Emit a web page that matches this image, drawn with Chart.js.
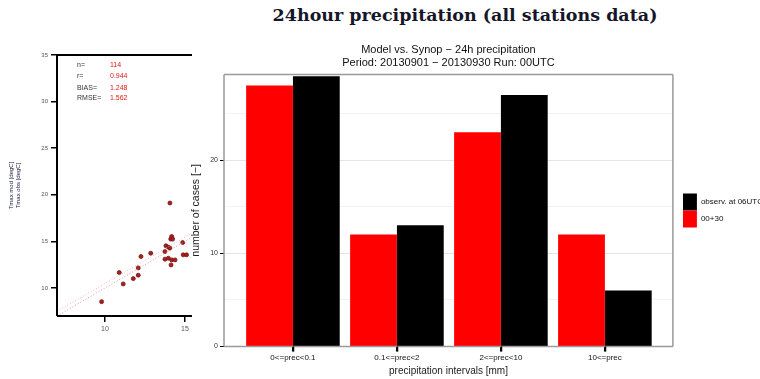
<!DOCTYPE html>
<html>
<head>
<meta charset="utf-8">
<script src="https://cdn.jsdelivr.net/npm/chart.js@4.4.0/dist/chart.umd.min.js"></script>
<style>
  body { margin: 0; background: #fff; }
  #page { position: relative; width: 760px; height: 379px; overflow: hidden; }
  #head { position: absolute; left: 165px; top: 5px; width: 600px; text-align: center;
          font: bold 17.5px "DejaVu Serif", "Liberation Serif", serif; color: #16162a; }
  #scatter { position: absolute; left: 0; top: 0; }
  #bars { position: absolute; left: 190px; top: 0; }
</style>
</head>
<body>
<div id="page">
  <div id="head">24hour precipitation (all stations data)</div>
  <canvas id="scatter" width="192" height="379"></canvas>
  <canvas id="bars" width="583" height="379"></canvas>
</div>
<script>
// bar chart data
const categories = ['0<=prec<0.1', '0.1<=prec<2', '2<=prec<10', '10<=prec'];
const modelCounts = [28, 12, 23, 12];   // 00+30
const obsCounts = [29, 13, 27, 6];      // observ. at 06UTC
const countTicks = [0, 10, 20];

// scatter panel data (left, partly cut off)
const tObs = [9.79, 10.89, 11.14, 11.77, 12.08, 12.08, 12.25, 12.86, 14.06, 14.17, 14.11, 14.23,
              13.81, 13.96, 13.75, 14.06, 13.75, 13.96, 14.17, 14.38, 14.13, 14.86, 14.89, 15.1];
const tMod = [8.54, 11.66, 10.44, 11.01, 11.38, 12.16, 13.38, 13.74, 19.12, 15.53, 15.25, 15.25,
              14.53, 14.39, 13.91, 14.28, 13.1, 13.2, 13.02, 13.02, 12.48, 14.88, 13.56, 13.56];
const diagX = [7, 15.44];
const diagY = [7, 15.44];
const fitX = [7, 15.44];
const fitY = [7.5, 15.9];
const xTicks = [10, 15];
const yTicks = [10, 15, 20, 25, 30, 35];
const statNames = ['n=', 'r=', 'BIAS=', 'RMSE='];
const statValues = ['114', '0.944', '1.248', '1.562'];

Chart.defaults.font.family = '"Liberation Sans", Arial, sans-serif';

// plot frame, plus optional tick marks under the x axis
const frame = {
  id: 'frame',
  afterDraw(chart, args, opts) {
    const a = chart.chartArea;
    const c = chart.ctx;
    c.save();
    c.strokeStyle = opts.color;
    c.lineWidth = opts.width;
    c.beginPath();
    if (opts.sides.includes('l')) { c.moveTo(a.left, a.top); c.lineTo(a.left, a.bottom); }
    if (opts.sides.includes('t')) { c.moveTo(a.left, a.top); c.lineTo(a.right, a.top); }
    if (opts.sides.includes('r')) { c.moveTo(a.right, a.top); c.lineTo(a.right, a.bottom); }
    if (opts.sides.includes('b')) { c.moveTo(a.left, a.bottom); c.lineTo(a.right, a.bottom); }
    c.stroke();
    if (opts.xTicks) {
      const xs = chart.scales.x;
      c.strokeStyle = '#000';
      c.lineWidth = 1.5;
      c.beginPath();
      xs.ticks.forEach(t => {
        const px = Math.round(xs.getPixelForValue(t.value)) + 0.5;
        c.moveTo(px, a.bottom);
        c.lineTo(px, a.bottom + 5);
      });
      c.stroke();
    }
    c.restore();
  }
};

const stats = {
  id: 'stats',
  afterDraw(chart) {
    const c = chart.ctx;
    const a = chart.chartArea;
    c.save();
    c.font = '7px "Liberation Sans", Arial, sans-serif';
    c.textBaseline = 'middle';
    const rows = [10, 21, 33, 43];
    statNames.forEach((n, i) => {
      c.fillStyle = '#333';
      c.fillText(n, a.left + 20, a.top + rows[i]);
      c.fillStyle = '#e01818';
      c.fillText(statValues[i], a.left + 53, a.top + rows[i]);
    });
    c.restore();
  }
};

new Chart(document.getElementById('scatter'), {
  type: 'scatter',
  data: {
    datasets: [
      { type: 'line', data: diagX.map((x, i) => ({x: x, y: diagY[i]})), borderColor: '#f08c8c',
        borderWidth: 1, borderDash: [1, 2], pointRadius: 0 },
      { type: 'line', data: fitX.map((x, i) => ({x: x, y: fitY[i]})), borderColor: '#f4b4b4',
        borderWidth: 1, borderDash: [1, 2], pointRadius: 0 },
      { data: tObs.map((x, i) => ({x: x, y: tMod[i]})), backgroundColor: '#a52020',
        borderColor: '#7a1414', borderWidth: 0.8, pointRadius: 2 }
    ]
  },
  options: {
    responsive: false,
    animation: false,
    layout: { autoPadding: false, padding: { top: 55, left: 0, right: 0, bottom: 0 } },
    scales: {
      x: {
        type: 'linear', min: 7, max: 15.44,
        afterBuildTicks: s => { s.ticks = xTicks.map(v => ({value: v})); },
        ticks: { font: { size: 7 }, color: '#555', padding: 3 },
        grid: { drawOnChartArea: false, tickLength: 6, color: '#000', lineWidth: 1.5 },
        border: { display: false },
        afterFit: s => { s.height = 63; }
      },
      y: {
        min: 7, max: 35,
        afterBuildTicks: s => { s.ticks = yTicks.map(v => ({value: v})); },
        ticks: { font: { size: 6 }, color: '#555', padding: 3 },
        grid: { drawOnChartArea: false, tickLength: 6, color: '#000', lineWidth: 1.5 },
        border: { display: false },
        title: { display: true, text: ['Tmax mod [degC]', 'Tmax obs [degC]'], font: { size: 6 },
                 color: '#1a1a40', padding: { top: 8, bottom: 0 } },
        afterFit: s => { s.width = 57; }
      }
    },
    plugins: {
      legend: { display: false },
      tooltip: { enabled: false },
      frame: { color: '#000', width: 2, sides: 'ltb', xTicks: false }
    }
  },
  plugins: [frame, stats]
});

new Chart(document.getElementById('bars'), {
  type: 'bar',
  data: {
    datasets: [
      { label: '00+30', data: modelCounts.map((v, i) => ({x: i, y: v})),
        backgroundColor: '#ff0000', borderColor: '#ff0000', borderWidth: 0 },
      { label: 'observ. at 06UTC', data: obsCounts.map((v, i) => ({x: i, y: v})),
        backgroundColor: '#000000', borderColor: '#000000', borderWidth: 0 }
    ]
  },
  options: {
    responsive: false,
    animation: false,
    categoryPercentage: 0.9,
    barPercentage: 1.0,
    layout: { padding: { top: 0, left: 0, right: 0, bottom: 2 } },
    scales: {
      x: {
        type: 'linear', min: -0.663, max: 3.654, offset: false,
        afterBuildTicks: s => { s.ticks = categories.map((c, i) => ({value: i})); },
        ticks: { callback: v => categories[v], font: { size: 8 }, color: '#111',
                 padding: 2, maxRotation: 0, autoSkip: false },
        grid: { offset: false, drawOnChartArea: false, tickLength: 5, color: '#000', lineWidth: 1.5 },
        border: { display: false },
        title: { display: true, text: 'precipitation intervals [mm]', font: { size: 10 },
                 color: '#222', padding: { top: 0, bottom: 0 } }
      },
      y: {
        min: 0, max: 29.2,
        afterBuildTicks: s => { s.ticks = [0, 5, 10, 15, 20, 25].map(v => ({value: v})); },
        ticks: { callback: v => countTicks.includes(v) ? v : '', font: { size: 7 }, color: '#333', padding: 2 },
        grid: {
          color: ctx => ctx.tick && ctx.tick.value % 10 === 0 ? '#e4e4e4' : '#f2f2f2',
          tickColor: ctx => ctx.tick && countTicks.includes(ctx.tick.value) ? '#000' : 'rgba(0,0,0,0)',
          tickLength: 4
        },
        border: { display: false },
        title: { display: true, text: 'number of cases [\u2212]', font: { size: 10.5 },
                 color: '#222', padding: { top: 0, bottom: 0 } },
        afterFit: s => { s.width = 34; }
      },
      // empty strip between plot frame and legend
      gap: {
        type: 'linear', position: 'right', display: true,
        ticks: { display: false }, grid: { display: false }, border: { display: false },
        afterFit: s => { s.width = 10; }
      }
    },
    plugins: {
      legend: {
        position: 'right', reverse: true, fullSize: false,
        labels: { boxWidth: 14, boxHeight: 17, padding: 0, font: { size: 8 }, color: '#111' }
      },
      title: {
        display: true, fullSize: false,
        text: ['Model vs. Synop \u2212 24h precipitation', 'Period: 20130901 \u2212 20130930 Run: 00UTC'],
        font: { size: 11, weight: 'normal' }, color: '#111',
        padding: { top: 43, bottom: 5 }
      },
      tooltip: { enabled: false },
      frame: { color: '#9a9a9a', width: 1.5, sides: 'ltrb', xTicks: true }
    }
  },
  plugins: [frame]
});
</script>
</body>
</html>
